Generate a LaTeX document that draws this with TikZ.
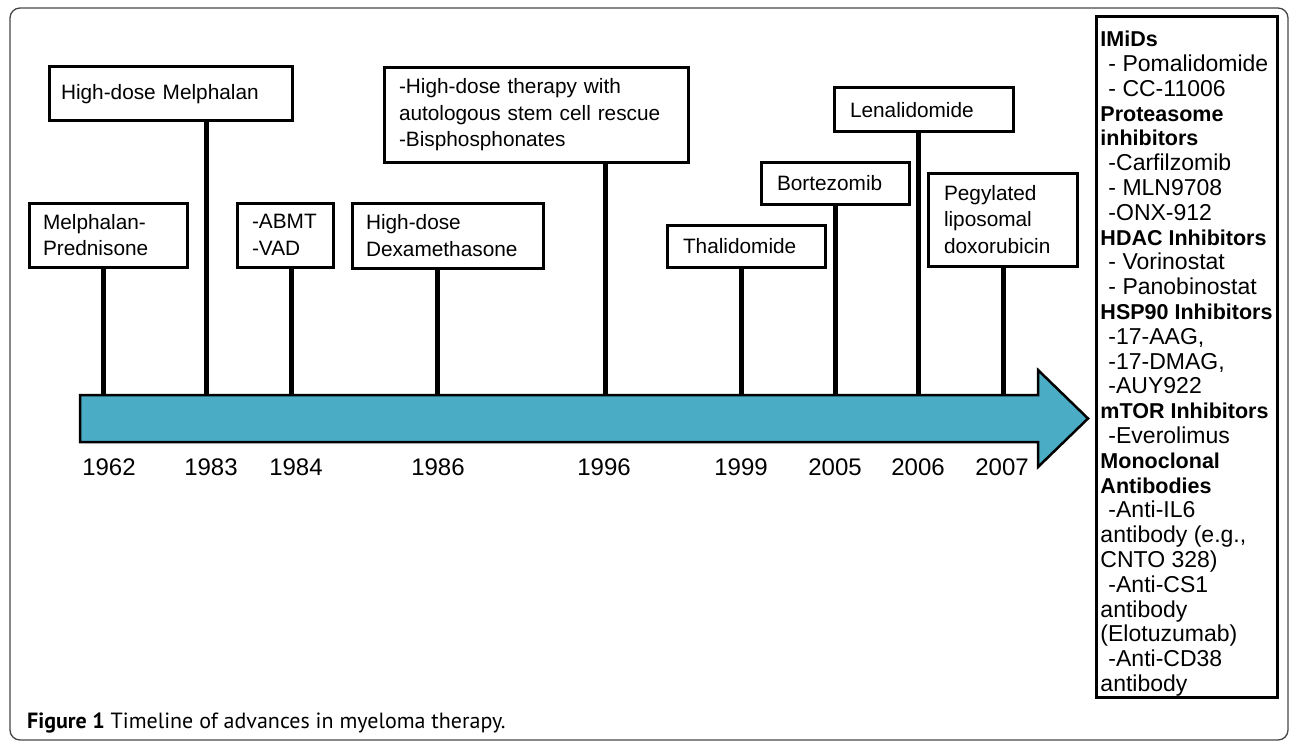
\documentclass[tikz,border=0pt]{standalone}
\usepackage{fontspec}
\setmainfont{Liberation Sans}
\newfontfamily\capfont{PT Sans}
\definecolor{arrowblue}{RGB}{75,172,198}
\definecolor{framegray}{RGB}{70,70,70}
\newcommand\boxfont{\fontsize{20.8}{26.5}\selectfont}
\newcommand\yearfont{\fontsize{24}{28}\selectfont}
\newcommand\panelfont{\fontsize{23}{24.8}\selectfont}
\newcommand\hd[1]{{\fontsize{21.5}{24.8}\selectfont\bfseries #1}}
\newcommand\ind{\hspace*{8pt}}
\begin{document}
\begin{tikzpicture}[x=1pt,y=-1pt,
  evbox/.style={draw, line width=3pt, align=left, font=\boxfont, inner ysep=0pt},
  tick/.style={line width=5pt},
  yearlbl/.style={font=\yearfont, inner sep=0pt},
]
\useasboundingbox (0,0) rectangle (1290,741);
% outer frame
\draw[framegray, line width=1.3pt, rounded corners=10pt] (10,8) rectangle (1288,740);

% event boxes
\node[evbox, minimum width=158pt, minimum height=64pt, text width=130pt, inner xsep=14pt] (b1) at (108,235) {Melphalan-\\Prednisone};
\node[evbox, minimum width=243pt, minimum height=54pt, text width=219pt, inner xsep=12pt] (b2) at (170.5,94) {High-dose Melphalan};
\node[evbox, minimum width=96pt, minimum height=64pt, text width=66pt, inner xsep=15pt] (b3) at (285,235) {\mbox{-ABMT}\\\mbox{-VAD}};
\node[evbox, minimum width=191pt, minimum height=65pt, text width=163pt, inner xsep=14pt] (b4) at (447.5,235.5) {High-dose\\Dexamethasone};
\node[evbox, minimum width=304pt, minimum height=94pt, text width=274pt, inner xsep=15pt] (b5) at (536,115) {-High-dose therapy with\\autologous stem cell rescue\\-Bisphosphonates};
\node[evbox, minimum width=158pt, minimum height=42pt, text width=126pt, inner xsep=16pt] (b6) at (746,246) {Thalidomide};
\node[evbox, minimum width=148pt, minimum height=42pt, text width=116pt, inner xsep=16pt] (b7) at (835,183) {Bortezomib};
\node[evbox, minimum width=179pt, minimum height=44pt, text width=147pt, inner xsep=16pt] (b8) at (923.5,110) {Lenalidomide};
\node[evbox, minimum width=149pt, minimum height=93pt, text width=117pt, inner xsep=16pt] (b9) at (1002.5,219.5) {Pegylated\\liposomal\\doxorubicin};

% timeline arrow
\draw[fill=arrowblue, line width=2.5pt, line join=miter]
  (80,395) -- (1038,395) -- (1038,370) -- (1088,418.5) -- (1038,467) -- (1038,442) -- (80,442) -- cycle;

% tick end points on the arrow body
\coordinate (t1) at (103,395);
\coordinate (t2) at (206,395);
\coordinate (t3) at (291,395);
\coordinate (t4) at (437,395);
\coordinate (t5) at (605,395);
\coordinate (t6) at (741,395);
\coordinate (t7) at (835,395);
\coordinate (t8) at (918,395);
\coordinate (t9) at (1003,395);

\draw[tick] (t1 |- b1.south) -- (t1);
\draw[tick] (t2 |- b2.south) -- (t2);
\draw[tick] (t3 |- b3.south) -- (t3);
\draw[tick] (t4 |- b4.south) -- (t4);
\draw[tick] (t5 |- b5.south) -- (t5);
\draw[tick] (t6 |- b6.south) -- (t6);
\draw[tick] (t7 |- b7.south) -- (t7);
\draw[tick] (t8 |- b8.south) -- (t8);
\draw[tick] (t9 |- b9.south) -- (t9);

% years
\node[yearlbl] (y1) at (109,467) {1962};
\node[yearlbl] (y2) at (211,467) {1983};
\node[yearlbl] (y3) at (296,467) {1984};
\node[yearlbl] (y4) at (438,467) {1986};
\node[yearlbl] (y5) at (604,467) {1996};
\node[yearlbl] (y6) at (741,467) {1999};
\node[yearlbl] (y7) at (835,467) {2005};
\node[yearlbl] (y8) at (918,467) {2006};
\node[yearlbl] (y9) at (1002,467) {2007};

% right panel
\node[draw, line width=3pt, minimum width=181pt, minimum height=680pt, inner sep=0pt,
      align=left, font=\panelfont] (panel) at (1186.5,357) {%
\rule[0pt]{0pt}{28.8pt}\hd{IMiDs}\\
\ind - Pomalidomide\\
\ind - CC-11006\\
\hd{Proteasome}\\
\hd{inhibitors}\\
\ind -Carfilzomib\\
\ind - MLN9708\\
\ind -ONX-912\\
\hd{HDAC Inhibitors}\\
\ind - Vorinostat\\
\ind - Panobinostat\\
\hd{HSP90 Inhibitors}\\
\ind -17-AAG,\\
\ind -17-DMAG,\\
\ind -AUY922\\
\hd{mTOR Inhibitors}\\
\ind -Everolimus\\
\hd{Monoclonal}\\
\hd{Antibodies}\\
\ind -Anti-IL6\\
antibody (e.g.,\\
CNTO 328)\\
\ind -Anti-CS1\\
antibody\\
(Elotuzumab)\\
\ind -Anti-CD38\\
antibody\rule[-4.8pt]{0pt}{0pt}};

% caption
\node[anchor=west, inner sep=0pt, font=\capfont\fontsize{22}{26}\selectfont] (caption) at (27,723)
  {\textbf{Figure 1} Timeline of advances in myeloma therapy.};
\end{tikzpicture}
\end{document}
